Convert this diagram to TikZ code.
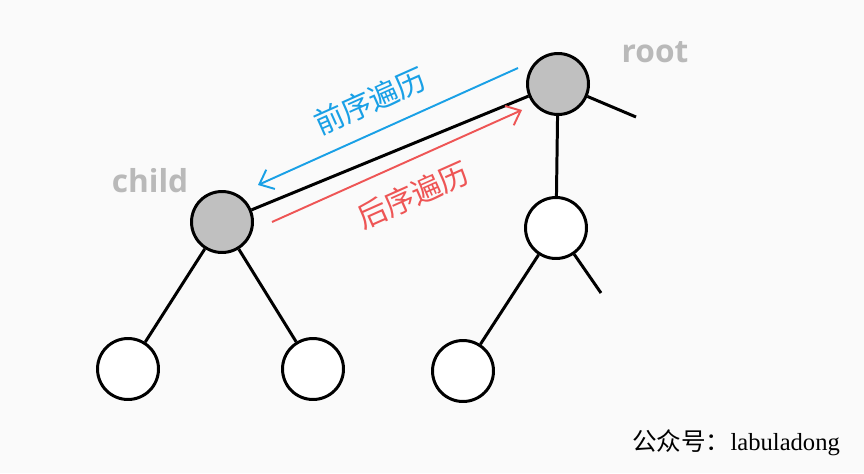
\documentclass[tikz,border=0pt]{standalone}
\usepackage{fontspec}
\setmainfont{Liberation Serif}
\newfontfamily\cjk{Noto Sans CJK SC}
\newfontfamily\labelfont{Open Sans}
\usepackage{tikz}
\usetikzlibrary{arrows.meta}
\definecolor{bgcol}{RGB}{250,250,250}
\definecolor{nodegray}{RGB}{192,192,192}
\definecolor{textgray}{RGB}{185,185,185}
\definecolor{preblue}{RGB}{25,160,230}
\definecolor{postred}{RGB}{238,85,85}
\tikzstyle{treenode} = [circle, draw=black, line width=1.7pt, minimum size=1.22cm, inner sep=0pt, fill=white]
\tikzstyle{visited} = [treenode, fill=nodegray]
\tikzstyle{edge} = [line width=1.7pt]
\tikzstyle{trav} = [line width=1.1pt, -{Straight Barb[length=7pt,width=12pt]}]
\tikzstyle{namelabel} = [text=textgray, font=\labelfont\bfseries\fontsize{18}{20}\selectfont]
\tikzstyle{travlabel} = [rotate=24, font=\cjk\fontsize{17}{18}\selectfont]

\begin{document}
\begin{tikzpicture}[x=0.02cm, y=-0.02cm]
\fill[bgcol] (0,0) rectangle (864,473);
\useasboundingbox (0,0) rectangle (864,473);

\node (root) [visited] at (558,84) {};
\node (child) [visited] at (222,222) {};
\node (rchild) [treenode] at (556,228) {};
\node (leafA) [treenode] at (128,369) {};
\node (leafB) [treenode] at (313,369) {};
\node (leafC) [treenode] at (463,371) {};
\coordinate (rootstub) at (636,117);
\coordinate (rstub) at (601,293);

\draw [edge] (root) -- (child);
\draw [edge] (root) -- (rchild);
\draw [edge] (root) -- (rootstub);
\draw [edge] (child) -- (leafA);
\draw [edge] (child) -- (leafB);
\draw [edge] (rchild) -- (leafC);
\draw [edge] (rchild) -- (rstub);

% traversal arrows
\coordinate (preA) at (518,68);
\coordinate (preB) at (258,185);
\coordinate (postA) at (272,222);
\coordinate (postB) at (522,110);
\draw [trav, preblue] (preA) -- (preB);
\draw [trav, postred] (postA) -- (postB);
\node (prelabel) [travlabel, text=preblue] at (370,101) {前序遍历};
\node (postlabel) [travlabel, text=postred] at (413,195) {后序遍历};

\node (rootname) [namelabel] at (655,52) {root};
\node (childname) [namelabel] at (150,181) {child};
\node (mark) at (736,443) {\fontsize{14}{16}\selectfont{\cjk 公众号：}labuladong};
\end{tikzpicture}
\end{document}
